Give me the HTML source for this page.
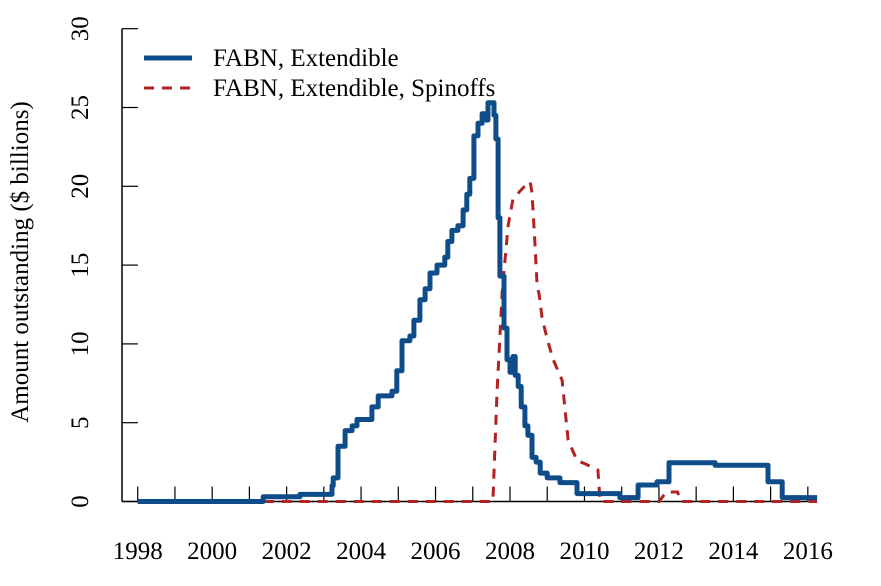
<!DOCTYPE html>
<html><head><meta charset="utf-8"><style>
body{margin:0;background:#fff}
svg text{font-family:"Liberation Serif",serif;fill:#000}
</style></head><body>
<svg width="881" height="581" viewBox="0 0 881 581">
<g id="axes"></g>
<g id="series"></g>
<g>
<line x1="144" y1="58" x2="192" y2="58" stroke="#0f4c8a" stroke-width="5"/>
<text x="213" y="66" font-size="25">FABN, Extendible</text>
<line x1="144" y1="88" x2="192" y2="88" stroke="#b22222" stroke-width="3" stroke-dasharray="10,8"/>
<text x="213" y="96" font-size="25">FABN, Extendible, Spinoffs</text>
</g>
<text transform="translate(28,262) rotate(-90)" text-anchor="middle" font-size="25">Amount outstanding ($ billions)</text>
</svg>
<script>
const xTicks=[1998,1999,2000,2001,2002,2003,2004,2005,2006,2007,2008,2009,2010,2011,2012,2013,2014,2015,2016];
const xLabels=[1998,2000,2002,2004,2006,2008,2010,2012,2014,2016];
const yTicks=[0,5,10,15,20,25,30];
const blueYears=[1998,2001.37,2002.36,2003.22,2003.25,2003.38,2003.57,2003.76,2003.89,2004.24,2004.29,2004.46,2004.83,2004.96,2005.10,2005.31,2005.42,2005.58,2005.72,2005.85,2006.04,2006.25,2006.33,2006.44,2006.60,2006.74,2006.84,2006.92,2007.03,2007.14,2007.25,2007.36,2007.41,2007.52,2007.57,2007.62,2007.68,2007.73,2007.84,2007.92,2008.00,2008.08,2008.14,2008.22,2008.30,2008.40,2008.48,2008.59,2008.70,2008.81,2009.00,2009.34,2009.80,2010.95,2011.44,2011.95,2012.27,2013.51,2014.93,2015.31,2016.25];
const blueVals=[0,0.3,0.45,1.0,1.5,3.5,4.5,4.8,5.2,5.2,6.0,6.7,7.0,8.3,10.2,10.5,11.5,12.8,13.5,14.5,15.0,15.5,16.5,17.2,17.5,18.5,19.5,20.5,23.2,24.0,24.6,24.2,25.3,25.3,24.5,23.0,18.0,14.3,11.0,9.0,8.2,9.2,8.0,7.3,6.0,4.8,4.2,2.8,2.5,1.8,1.5,1.2,0.5,0.25,1.05,1.25,2.46,2.3,1.25,0.25,0.25];
const redYears=[1998,2007.54,2007.65,2007.79,2007.95,2008.08,2008.35,2008.54,2008.59,2008.67,2008.73,2008.78,2008.86,2009.00,2009.16,2009.40,2009.56,2009.80,2010.01,2010.36,2010.42,2012.0,2012.2,2012.5,2012.6,2016.25];
const redVals=[0,0,6.9,13.3,17.5,19.2,19.9,20.3,19.6,16.4,13.6,13.2,11.7,10.3,9.0,7.7,3.9,2.6,2.4,2.0,0,0,0.6,0.6,0,0];
const NS='http://www.w3.org/2000/svg';
const X=y=>137.7+(y-1998)*37.23;
const Y=v=>501.5-v*15.76;
const axes=document.getElementById('axes'),series=document.getElementById('series');
function mk(tag,attrs,parent){const e=document.createElementNS(NS,tag);for(const k in attrs)e.setAttribute(k,attrs[k]);parent.appendChild(e);return e;}
let e=mk('line',{x1:122,y1:Y(0),x2:X(2016),y2:Y(0),stroke:'#000','stroke-width':1.5},axes);


e=mk('line',{x1:122,y1:Y(0),x2:122,y2:Y(30),stroke:'#000','stroke-width':1.5},axes);


xTicks.forEach(t=>{const l=mk('line',{x1:X(t),x2:X(t),y1:Y(0),y2:Y(0)-15,stroke:'#000','stroke-width':1.2},axes);

});
xLabels.forEach(t=>{const l=mk('text',{x:X(t),y:559,'text-anchor':'middle','font-size':25},axes);l.textContent=t;

});
yTicks.forEach(t=>{const l=mk('line',{x1:122,x2:138,y1:Y(t),y2:Y(t),stroke:'#000','stroke-width':1.2},axes);


const tx=mk('text',{transform:`translate(88,${Y(t)}) rotate(-90)`,'text-anchor':'middle','font-size':25},axes);tx.textContent=t;

});
let d='';redYears.forEach((yr,i)=>{d+=(i?'L':'M')+X(yr).toFixed(1)+','+Y(redVals[i]).toFixed(1);});
const r=mk('path',{d:d,fill:'none',stroke:'#b22222','stroke-width':3,'stroke-dasharray':'10,8'},series);


d='';blueYears.forEach((yr,i)=>{if(i===0)d+='M'+X(yr)+','+Y(blueVals[i]);else d+='H'+X(yr).toFixed(1)+'V'+Y(blueVals[i]).toFixed(1);});
const b=mk('path',{d:d,fill:'none',stroke:'#0f4c8a','stroke-width':5,'stroke-linejoin':'round'},series);


</script>
</body></html>
